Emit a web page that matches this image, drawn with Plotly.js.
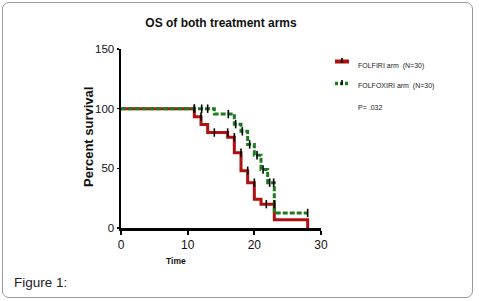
<!DOCTYPE html>
<html><head><meta charset="utf-8">
<script src="https://cdn.plot.ly/plotly-3.0.1.min.js"></script>
<style>
html,body{margin:0;padding:0;background:#fff;}
#wrap{position:relative;width:479px;height:301px;}
#plot{position:absolute;left:0;top:0;width:479px;height:301px;}
#frame{position:absolute;left:2px;top:2px;width:469px;height:294px;border:1.5px solid #9a9a9a;border-radius:7px;pointer-events:none;}
</style></head>
<body><div id="wrap"><div id="plot"></div><div id="frame"></div></div>
<script>
// FOLFIRI arm (N=30) - Kaplan-Meier steps
const folfiriTime = [0, 11, 12, 13, 16, 17, 18, 19, 20, 21, 23, 28];
const folfiriSurv = [100, 93.3, 86.7, 80, 76, 63, 48, 38, 24, 20, 7, 0];
const folfiriCensTime = [11, 12, 14, 16, 17, 18, 19, 20, 21.8, 23];
const folfiriCensSurv = [100, 93.3, 80, 80, 76, 63, 48, 38, 20, 20];
// FOLFOXIRI arm (N=30)
const folfoxiriTime = [0, 14, 17, 18, 19, 20, 21, 22, 23, 28];
const folfoxiriSurv = [100, 95.5, 87, 81, 70, 61, 49, 38, 12.6, 12.6];
const folfoxiriCensTime = [11, 12.1, 13, 16.1, 17.2, 18.2, 19.3, 20.4, 21.3, 22.3, 22.9, 28];
const folfoxiriCensSurv = [100, 100, 100, 95.5, 87, 81, 70, 61, 49, 38, 38, 12.6];
const xTicks = [0, 10, 20, 30];
const yTicks = [0, 50, 100, 150];
const legendLabels = ["FOLFIRI arm  (N=30)", "FOLFOXIRI arm  (N=30)", "P= .032"];

const red = '#b01010', green = '#1f7a1f';
const L = 121, T = 49, W = 200, H = 179;
const px = x => (x - L) / W;
const py = y => (T + H - y) / H;

const traces = [
  {x: folfiriTime, y: folfiriSurv, type: 'scatter', mode: 'lines', line: {shape: 'hv', color: red, width: 3}, showlegend: false, hoverinfo: 'skip'},
  {x: folfoxiriTime, y: folfoxiriSurv, type: 'scatter', mode: 'lines', line: {shape: 'hv', color: green, width: 3, dash: '5px,2px'}, showlegend: false, hoverinfo: 'skip'},
  {x: folfiriCensTime, y: folfiriCensSurv, type: 'scatter', mode: 'markers', marker: {symbol: 'line-ns', size: 6, line: {color: '#000', width: 1.6}}, showlegend: false, cliponaxis: false, hoverinfo: 'skip'},
  {x: folfoxiriCensTime, y: folfoxiriCensSurv, type: 'scatter', mode: 'markers', marker: {symbol: 'line-ns', size: 6, line: {color: '#000', width: 1.6}}, showlegend: false, cliponaxis: false, hoverinfo: 'skip'}
];

const font = 'Liberation Sans, Arial, sans-serif';
const layout = {
  width: 479, height: 301,
  margin: {l: L, r: 479 - L - W, t: T, b: 301 - T - H, pad: 0},
  paper_bgcolor: '#fff', plot_bgcolor: '#fff',
  showlegend: false,
  title: {text: '<b>OS of both treatment arms</b>', font: {family: font, size: 12, color: '#111'}, x: 221 / 479, xanchor: 'center', y: 1 - 23 / 301, yanchor: 'middle', xref: 'container', yref: 'container'},
  xaxis: {range: [0, 30], tickvals: xTicks, ticktext: xTicks.map(String), showgrid: false, zeroline: false, showline: true, linecolor: '#000', linewidth: 2.5, ticks: 'outside', ticklen: 4, tickwidth: 2, tickcolor: '#000', tickfont: {family: font, size: 12, color: '#111'}, fixedrange: true},
  yaxis: {range: [0, 150], tickvals: yTicks, ticktext: yTicks.map(String), showgrid: false, zeroline: false, showline: true, linecolor: '#000', linewidth: 2.5, ticks: 'outside', ticklen: 2, tickwidth: 1.5, tickcolor: '#000', tickfont: {family: font, size: 11.5, color: '#111'}, fixedrange: true},
  annotations: [
    {text: '<b>Percent survival</b>', textangle: -90, xref: 'paper', yref: 'paper', x: px(88), y: py(137), xanchor: 'center', yanchor: 'middle', showarrow: false, font: {family: font, size: 13, color: '#111'}},
    {text: '<b>Time</b>', xref: 'paper', yref: 'paper', x: px(176), y: py(261), xanchor: 'center', yanchor: 'middle', showarrow: false, font: {family: font, size: 8.5, color: '#111'}},
    {text: 'Figure 1:', xref: 'paper', yref: 'paper', x: px(12), y: py(282), xanchor: 'left', yanchor: 'middle', showarrow: false, font: {family: font, size: 13.5, color: '#222'}},
    {text: legendLabels[0], xref: 'paper', yref: 'paper', x: px(356), y: py(66), xanchor: 'left', yanchor: 'middle', showarrow: false, font: {family: font, size: 7, color: '#222'}},
    {text: legendLabels[1], xref: 'paper', yref: 'paper', x: px(356), y: py(86), xanchor: 'left', yanchor: 'middle', showarrow: false, font: {family: font, size: 7, color: '#222'}},
    {text: legendLabels[2], xref: 'paper', yref: 'paper', x: px(356), y: py(107), xanchor: 'left', yanchor: 'middle', showarrow: false, font: {family: font, size: 7, color: '#222'}}
  ],
  shapes: [
    {type: 'line', xref: 'paper', yref: 'paper', x0: px(335), x1: px(349), y0: py(61.5), y1: py(61.5), line: {color: red, width: 4}},
    {type: 'line', xref: 'paper', yref: 'paper', x0: px(342), x1: px(342), y0: py(58), y1: py(63), line: {color: '#000', width: 1.6}},
    {type: 'line', xref: 'paper', yref: 'paper', x0: px(335), x1: px(349), y0: py(83.5), y1: py(83.5), line: {color: green, width: 3.5, dash: '3px,2px'}},
    {type: 'line', xref: 'paper', yref: 'paper', x0: px(342), x1: px(342), y0: py(80), y1: py(85), line: {color: '#000', width: 1.6}}
  ]
};
Plotly.newPlot('plot', traces, layout, {staticPlot: true, displayModeBar: false});
</script></body></html>
